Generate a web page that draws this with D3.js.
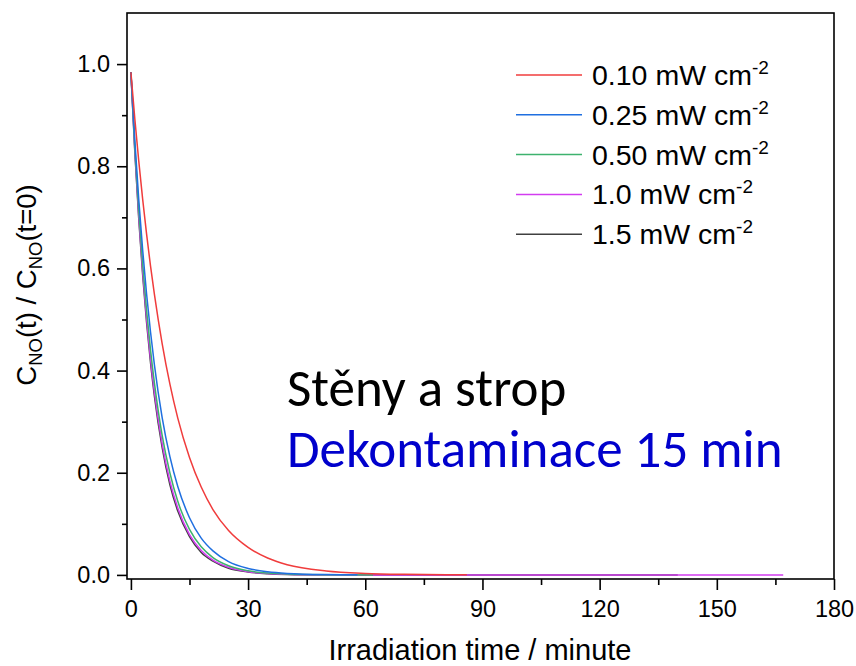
<!DOCTYPE html>
<html>
<head>
<meta charset="utf-8">
<script src="https://cdn.jsdelivr.net/npm/d3@7"></script>
<style>
  html, body { margin: 0; padding: 0; background: #fff; }
  svg { display: block; }
</style>
</head>
<body>
<svg id="chart" width="856" height="666"></svg>
<script>
// Irradiation time (minutes) at which each curve was sampled
const timeRed     = [0, 1, 2, 3, 4, 5, 6, 8, 10, 12, 15, 18, 21, 25, 30, 35, 40, 50, 60, 70, 86];
const valuesRed   = [0.984, 0.893, 0.811, 0.736, 0.668, 0.606, 0.550, 0.453, 0.373, 0.307, 0.230, 0.172, 0.128, 0.087, 0.054, 0.033, 0.020, 0.0077, 0.0029, 0.0011, 0.0002];

const timeBlue    = [0, 1, 2, 3, 4, 5, 6, 8, 10, 12, 15, 18, 21, 25, 30, 35, 40, 50, 58];
const valuesBlue  = [0.984, 0.851, 0.736, 0.637, 0.551, 0.477, 0.412, 0.308, 0.231, 0.173, 0.112, 0.072, 0.047, 0.026, 0.0127, 0.0062, 0.0030, 0.0007, 0.0002];

const timeGreen   = [0, 1, 2, 3, 4, 5, 6, 8, 10, 12, 15, 18, 21, 25, 30, 35, 40, 50, 62];
const valuesGreen = [0.984, 0.838, 0.715, 0.609, 0.519, 0.442, 0.377, 0.273, 0.199, 0.144, 0.089, 0.055, 0.034, 0.018, 0.0081, 0.0036, 0.0016, 0.0003, 0.0];

const timeMagenta   = [0, 1, 2, 3, 4, 5, 6, 8, 10, 12, 15, 18, 21, 25, 30, 35, 40, 50, 60, 90, 120, 167];
const valuesMagenta = [0.984, 0.832, 0.703, 0.595, 0.503, 0.425, 0.359, 0.257, 0.183, 0.131, 0.079, 0.048, 0.029, 0.015, 0.0064, 0.0028, 0.0012, 0.0002, 0.0, 0.0, 0.0, 0.0];

const timeBlack   = [0, 1, 2, 3, 4, 5, 6, 8, 10, 12, 15, 18, 21, 25, 30, 35, 40, 50, 60, 100, 140];
const valuesBlack = [0.984, 0.828, 0.698, 0.588, 0.495, 0.417, 0.351, 0.249, 0.176, 0.125, 0.075, 0.044, 0.027, 0.013, 0.0057, 0.0024, 0.0010, 0.0002, 0.0, 0.0, 0.0];

// Legend entries (label, superscript) in legend order
const legendLabels = ["0.10 mW cm", "0.25 mW cm", "0.50 mW cm", "1.0 mW cm", "1.5 mW cm"];
const legendSup = "-2";

// Axis ticks
const xTicks = [0, 30, 60, 90, 120, 150, 180];
const xMinorTicks = [15, 45, 75, 105, 135, 165];
const yTicks = [0.0, 0.2, 0.4, 0.6, 0.8, 1.0];
const yMinorTicks = [0.1, 0.3, 0.5, 0.7, 0.9];

const colors = ["#F03C3C", "#1F6FE0", "#3DB26E", "#D23CF0", "#404040"];

const series = [
  { name: legendLabels[0], t: timeRed,     v: valuesRed,     color: colors[0] },
  { name: legendLabels[1], t: timeBlue,    v: valuesBlue,    color: colors[1] },
  { name: legendLabels[2], t: timeGreen,   v: valuesGreen,   color: colors[2] },
  { name: legendLabels[3], t: timeMagenta, v: valuesMagenta, color: colors[3] },
  { name: legendLabels[4], t: timeBlack,   v: valuesBlack,   color: colors[4] }
];

const svg = d3.select("#chart");
const plot = { left: 127, right: 834, top: 13, bottom: 579 };

const x = d3.scaleLinear().domain([-1, 180]).range([plot.left, plot.right]);
const y = d3.scaleLinear().domain([-0.008, 1.1]).range([plot.bottom, plot.top]);

const tickFont = "'Liberation Sans', Arial, sans-serif";

// Curves: draw black underneath, red last so it sits on top near zero
const drawOrder = [4, 3, 2, 1, 0];
const line = d3.line()
  .x(d => x(d[0]))
  .y(d => y(d[1]))
  .curve(d3.curveMonotoneX);

svg.append("clipPath").attr("id", "clip")
  .append("rect")
  .attr("x", plot.left).attr("y", plot.top)
  .attr("width", plot.right - plot.left).attr("height", plot.bottom - plot.top);
const curves = svg.append("g").attr("clip-path", "url(#clip)");

drawOrder.forEach(i => {
  const s = series[i];
  curves.append("path")
    .datum(s.t.map((t, k) => [t, s.v[k]]))
    .attr("fill", "none")
    .attr("stroke", s.color)
    .attr("stroke-width", 1.5)
    .attr("d", line);
});

// Frame
svg.append("rect")
  .attr("x", plot.left).attr("y", plot.top)
  .attr("width", plot.right - plot.left).attr("height", plot.bottom - plot.top)
  .attr("fill", "none").attr("stroke", "#000").attr("stroke-width", 1.6);

// X axis
const xAxis = svg.append("g")
  .attr("transform", `translate(0,${plot.bottom})`)
  .call(d3.axisBottom(x).tickValues(xTicks).tickSize(11).tickSizeOuter(0).tickPadding(10)
    .tickFormat(d3.format("d")));
const xMinor = svg.append("g")
  .attr("transform", `translate(0,${plot.bottom})`)
  .call(d3.axisBottom(x).tickValues(xMinorTicks).tickSize(6).tickSizeOuter(0).tickFormat(""));

// Y axis
const yAxis = svg.append("g")
  .attr("transform", `translate(${plot.left},0)`)
  .call(d3.axisLeft(y).tickValues(yTicks).tickSize(10).tickSizeOuter(0).tickPadding(7)
    .tickFormat(d3.format(".1f")));
const yMinor = svg.append("g")
  .attr("transform", `translate(${plot.left},0)`)
  .call(d3.axisLeft(y).tickValues(yMinorTicks).tickSize(5).tickSizeOuter(0).tickFormat(""));

[xAxis, xMinor, yAxis, yMinor].forEach(g => {
  g.select(".domain").remove();
  g.selectAll(".tick line").attr("stroke", "#000").attr("stroke-width", 1.6);
  g.selectAll(".tick text")
    .attr("fill", "#000")
    .style("font-family", tickFont)
    .style("font-size", "23.5px");
});

// Axis titles
svg.append("text")
  .attr("x", 480).attr("y", 660)
  .attr("text-anchor", "middle")
  .style("font-family", tickFont).style("font-size", "29px")
  .text("Irradiation time / minute");

const yTitle = svg.append("text")
  .attr("transform", "translate(36,285) rotate(-90)")
  .attr("text-anchor", "middle")
  .style("font-family", tickFont).style("font-size", "27.5px");
yTitle.append("tspan").text("C");
yTitle.append("tspan").attr("dy", 6).style("font-size", "18.5px").text("NO");
yTitle.append("tspan").attr("dy", -6).text("(t) / C");
yTitle.append("tspan").attr("dy", 6).style("font-size", "18.5px").text("NO");
yTitle.append("tspan").attr("dy", -6).text("(t=0)");

// Legend
const legend = svg.append("g");
series.forEach((s, i) => {
  const ly = 75 + i * 39.8;
  legend.append("line")
    .attr("x1", 516).attr("x2", 582)
    .attr("y1", ly).attr("y2", ly)
    .attr("stroke", s.color).attr("stroke-width", 1.5);
  const t = legend.append("text")
    .attr("x", 592).attr("y", ly + 10)
    .style("font-family", tickFont).style("font-size", "28.5px")
    .attr("fill", "#000");
  t.append("tspan").text(s.name);
  t.append("tspan").attr("dy", -11).style("font-size", "19px").text(legendSup);
});

// Annotation
const noteFont = "Carlito, Calibri, Lato, sans-serif";
svg.append("text")
  .attr("x", 287).attr("y", 406)
  .style("font-family", noteFont).style("font-size", "53px")
  .attr("fill", "#000")
  .text("Stěny a strop");
svg.append("text")
  .attr("x", 287).attr("y", 467)
  .style("font-family", noteFont).style("font-size", "53px")
  .attr("fill", "#0000CC")
  .text("Dekontaminace 15 min");
</script>
</body>
</html>
